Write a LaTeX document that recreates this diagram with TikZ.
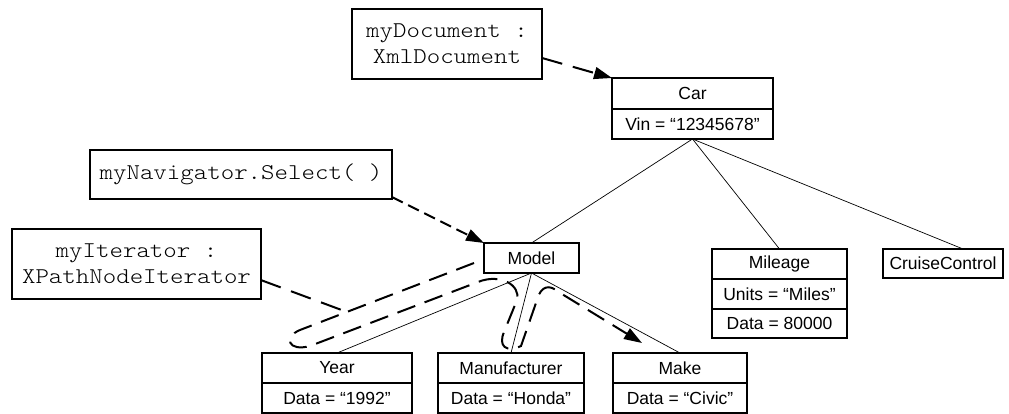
\documentclass[tikz,border=0pt]{standalone}
\usepackage{fontspec}
\setmainfont{Liberation Sans}
\newfontfamily\monof[Extension=.otf,FakeStretch=1.14]{lmmonolt10-regular}
\usetikzlibrary{arrows.meta,calc}
\begin{document}
\begin{tikzpicture}[x=1pt,y=-1pt,
  cell/.style={draw, line width=1.1pt, inner sep=0pt, outer sep=0pt, font=\fontsize{17.5}{21}\selectfont},
  mono/.style={draw, line width=1.1pt, inner sep=0pt, outer sep=0pt, align=center, font=\monof\fontsize{22.5}{26}\selectfont},
  tree/.style={line width=0.7pt},
  longdash/.style={line width=2pt, dash pattern=on 21pt off 11pt},
  shortdash/.style={line width=2pt, dash pattern=on 12pt off 6pt},
  tip/.style={-{Triangle[length=18pt,width=12pt]}}]
\useasboundingbox (0,0) rectangle (1009,414);

% boxes
\node[mono, minimum width=190pt, minimum height=70pt] (mydoc) at (447,44) {myDocument :\\XmlDocument};
\node[mono, minimum width=302pt, minimum height=49pt] (nav) at (241,174.5) {myNavigator.Select( )};
\node[mono, minimum width=249pt, minimum height=70pt] (iter) at (136.5,264) {myIterator :\\XPathNodeIterator};

\node[cell, minimum width=161pt, minimum height=31pt] (car) at (692.5,93.5) {Car};
\node[cell, minimum width=161pt, minimum height=30pt] (carv) at (692.5,124) {Vin = “12345678”};

\node[cell, minimum width=95pt, minimum height=30pt] (model) at (531.5,258) {Model};

\node[cell, minimum width=135pt, minimum height=30pt] (mil) at (779.5,264) {Mileage};
\node[cell, minimum width=135pt, minimum height=30pt] (milu) at (779.5,294) {Units = “Miles”};
\node[cell, minimum width=135pt, minimum height=29pt] (mild) at (779.5,323.5) {Data = 80000};

\node[cell, minimum width=120pt, minimum height=29pt] (cruise) at (943,263.5) {CruiseControl};

\node[cell, minimum width=150pt, minimum height=30pt] (year) at (337,368) {Year};
\node[cell, minimum width=150pt, minimum height=30pt] (yeard) at (337,398) {Data = “1992”};
\node[cell, minimum width=146pt, minimum height=30pt] (manu) at (511,368) {Manufacturer};
\node[cell, minimum width=146pt, minimum height=30pt] (manud) at (511,398) {Data = “Honda”};
\node[cell, minimum width=134pt, minimum height=30pt] (make) at (680,368) {Make};
\node[cell, minimum width=134pt, minimum height=30pt] (maked) at (680,398) {Data = “Civic”};

% tree connectors
\draw[tree] (carv.south) -- (model.north);
\draw[tree] (carv.south) -- (mil.north);
\draw[tree] (carv.south) -- ($(cruise.north west)!0.667!(cruise.north east)$);
\draw[tree] (model.south) -- (year.north);
\draw[tree] (model.south) -- (manu.north);
\draw[tree] (model.south) -- (make.north);

% dashed arrows
\draw[longdash, tip] ($(mydoc.south east)!0.3!(mydoc.north east)$) -- (car.north west);
\draw[shortdash, tip] ($(nav.south east)!0.04!(nav.north east)$) -- (model.north west);

% iterator traversal
\coordinate (t0) at (474,263);
\coordinate (t1) at (300,330);
\coordinate (t2) at (310,346);
\coordinate (t3) at (478,282);
\coordinate (t4) at (517,300);
\coordinate (t5) at (504,332);
\coordinate (t6) at (521,346);
\coordinate (t7) at (537,300);
\coordinate (t8) at (557,291);
\coordinate (tend) at (642,343);
\coordinate (join) at (347,312);

\draw[longdash] ($(iter.south east)!0.27!(iter.north east)$) -- (join);
\draw[line width=2pt, dash pattern=on 19pt off 10pt, tip]
  (t0) -- (t1) .. controls (283,337) and (288,352) .. (t2)
  -- (t3) .. controls (500,273) and (521,285) .. (t4)
  -- (t5) .. controls (498,346) and (506,353) .. (t6)
  -- (t7) .. controls (541,285) and (550,285) .. (t8)
  -- (tend);
\end{tikzpicture}
\end{document}
